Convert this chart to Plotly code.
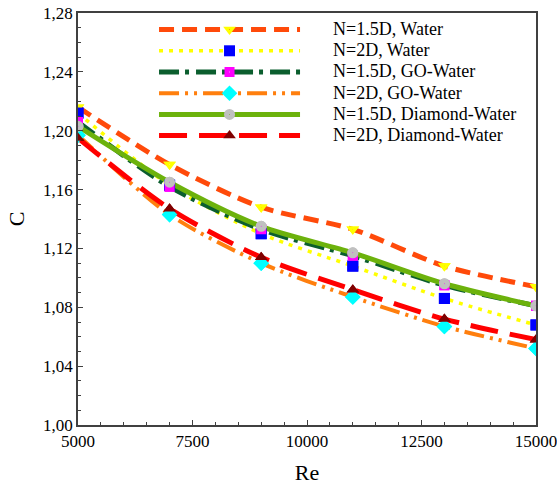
import plotly.graph_objects as go

re_vals = [5000, 7000, 9000, 11000, 13000, 15000]
water_15 = [1.216, 1.177, 1.148, 1.133, 1.108, 1.094]
water_2 = [1.212, 1.163, 1.130, 1.108, 1.086, 1.068]
go_15 = [1.206, 1.162, 1.133, 1.115, 1.095, 1.081]
go_2 = [1.197, 1.143, 1.110, 1.087, 1.067, 1.052]
dia_15 = [1.203, 1.165, 1.135, 1.117, 1.096, 1.081]
dia_2 = [1.195, 1.147, 1.114, 1.092, 1.072, 1.058]
names = ["N=1.5D, Water", "N=2D, Water", "N=1.5D, GO-Water",
         "N=2D, GO-Water", "N=1.5D, Diamond-Water", "N=2D, Diamond-Water"]
x_ticks = [5000, 7500, 10000, 12500, 15000]

SERIF = "Liberation Serif"

series = [water_15, water_2, go_15, go_2, dia_15, dia_2]
line_colors = ["#FF4A0A", "#FFFF00", "#0B5E2E", "#FF7F0E", "#6CB20C", "#FF0000"]
line_dash = ["15px,8px", "4px,6px", "20px,6px,4px,7px", "20px,6px,3px,6px,3px,6px",
             "solid", "28px,12px"]
line_width = [5, 3.5, 5, 4, 5, 5]
mk_sym = ["triangle-down-dot", "square", "square-dot", "diamond", "circle-dot", "triangle-up"]
mk_col = ["#FFFF00", "#0000FF", "#FF00FF", "#00FFFF", "#C0C0C0", "#800000"]
mk_size = [11, 11, 10, 12, 11, 11]

pad = "\u00a0" * 8

fig = go.Figure()
for i, ys in enumerate(series):
    fig.add_trace(go.Scatter(
        x=re_vals, y=ys, mode="lines+markers",
        name=pad + '<span style="font-size:18px">' + names[i] + "</span>",
        line=dict(color=line_colors[i], width=line_width[i], dash=line_dash[i], shape="spline", smoothing=0.8),
        marker=dict(symbol=mk_sym[i], color=mk_col[i], size=mk_size[i], line=dict(width=0, color="black")),
    ))
for i, ys in enumerate(series):
    fig.add_trace(go.Scatter(
        x=re_vals, y=ys, mode="markers", showlegend=False, hoverinfo="skip",
        marker=dict(symbol=mk_sym[i], color=mk_col[i], size=mk_size[i], line=dict(width=0, color="black")),
    ))

fig.update_layout(
    width=557, height=485,
    margin=dict(l=78, r=21, t=13, b=60, autoexpand=False),
    paper_bgcolor="white", plot_bgcolor="white",
    separators=",.",
    font=dict(family=SERIF, color="black", size=17),
    legend=dict(x=0.166, y=0.9976, xanchor="left", yanchor="top", bgcolor="rgba(0,0,0,0)",
                font=dict(family=SERIF, size=14, color="black"),
                itemwidth=141, tracegroupgap=0),
)
fig.update_xaxes(range=[5000, 15000], tickvals=x_ticks, tickformat="d", ticklabeloverflow="allow",
                 minor=dict(dtick=500, ticks="inside", ticklen=3, tickcolor="#404040"),
                 title=dict(text="Re", font=dict(family=SERIF, size=22), standoff=14))
fig.update_yaxes(range=[1.00, 1.28], dtick=0.04, tick0=1.0, tickformat=".2f",
                 minor=dict(dtick=0.01, ticks="inside", ticklen=3, tickcolor="#404040"),
                 title=dict(text="C", font=dict(family=SERIF, size=22), standoff=12))
fig.update_xaxes(showline=True, linecolor="#404040", linewidth=1.5, mirror=True,
                 ticks="inside", tickcolor="#404040", ticklen=5, tickwidth=1.2,
                 showgrid=False, zeroline=False,
                 tickfont=dict(family=SERIF, size=17, color="black"))
fig.update_yaxes(showline=True, linecolor="#404040", linewidth=1.5, mirror=True,
                 ticks="inside", tickcolor="#404040", ticklen=5, tickwidth=1.2,
                 showgrid=False, zeroline=False,
                 tickfont=dict(family=SERIF, size=17, color="black"))

fig.write_html("out.html", config={"displayModeBar": False},
               post_script="document.body.style.margin='0px';")
